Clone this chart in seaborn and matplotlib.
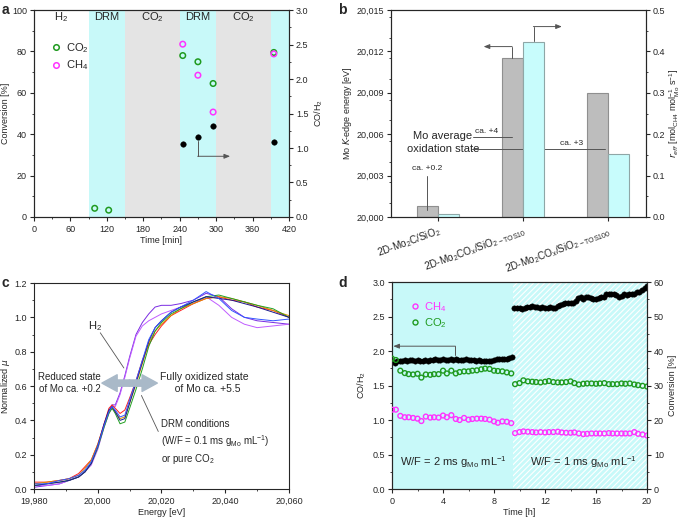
import matplotlib.pyplot as plt
import matplotlib.ticker as mticker
import pandas as pd
import seaborn as sns
from matplotlib.lines import Line2D

# ---------------- panel a: step-response test ----------------
A_CO2_T = [100, 123, 245, 270, 295, 395]
A_CO2 = [4.2, 3.3, 78.0, 75.0, 64.5, 79.5]
A_CH4_T = [245, 270, 295, 395]
A_CH4 = [83.5, 68.5, 50.7, 78.8]
A_RATIO_T = [245, 270, 295, 395]
A_RATIO = [1.06, 1.16, 1.32, 1.09]
A_PHASE_EDGES = [0, 90, 150, 240, 300, 390, 420]
A_PHASE_NAMES = ["H$_2$", "DRM", "CO$_2$", "DRM", "CO$_2$", ""]
A_PHASE_KIND = ["h2", "drm", "co2", "drm", "co2", "drm"]

# ---------------- panel b: edge energy and rate ----------------
B_CATS = [
    "2D-Mo$_2$C/SiO$_2$",
    "2D-Mo$_2$CO$_x$/SiO$_{\\mathregular{2-TOS10}}$",
    "2D-Mo$_2$CO$_x$/SiO$_{\\mathregular{2-TOS100}}$",
]
B_EDGE = [20000.8, 20011.5, 20009.0]
B_REFF = [0.007, 0.422, 0.152]

# ---------------- panel c: XANES spectra ----------------
C_ENERGY = [19980, 19984, 19988, 19991, 19994, 19996, 19998, 20000, 20002, 20003.5,
            20004.5, 20005.5, 20007, 20008.5, 20010, 20012, 20014, 20016, 20018, 20020,
            20023, 20026, 20030, 20034, 20038, 20042, 20046, 20050, 20055, 20060]
C_RED = [0.04, 0.04, 0.05, 0.06, 0.09, 0.13, 0.17, 0.26, 0.38, 0.47, 0.49, 0.47, 0.44, 0.46, 0.53,
         0.63, 0.75, 0.84, 0.90, 0.95, 1.01, 1.04, 1.08, 1.11, 1.12, 1.10, 1.09, 1.06, 1.04, 1.00]
C_GREEN = [0.02, 0.03, 0.04, 0.05, 0.07, 0.10, 0.15, 0.24, 0.36, 0.44, 0.47, 0.44, 0.38, 0.39, 0.47,
           0.58, 0.70, 0.83, 0.92, 0.97, 1.02, 1.05, 1.09, 1.12, 1.13, 1.11, 1.09, 1.07, 1.05, 1.00]
C_BLUE = [0.03, 0.03, 0.05, 0.06, 0.08, 0.11, 0.16, 0.25, 0.37, 0.45, 0.48, 0.46, 0.42, 0.43, 0.52,
          0.63, 0.75, 0.87, 0.94, 0.98, 1.03, 1.06, 1.10, 1.15, 1.11, 1.04, 1.00, 0.99, 0.98, 0.99]
C_ORANGE = [0.03, 0.04, 0.05, 0.06, 0.08, 0.12, 0.17, 0.26, 0.37, 0.45, 0.47, 0.45, 0.41, 0.42, 0.50,
            0.61, 0.73, 0.85, 0.92, 0.96, 1.01, 1.05, 1.08, 1.11, 1.12, 1.11, 1.09, 1.07, 1.04, 1.01]
C_NAVY = [0.02, 0.03, 0.04, 0.05, 0.07, 0.10, 0.15, 0.25, 0.38, 0.46, 0.48, 0.45, 0.40, 0.41, 0.50,
          0.62, 0.74, 0.86, 0.94, 0.98, 1.03, 1.06, 1.09, 1.12, 1.11, 1.10, 1.08, 1.06, 1.03, 1.00]
C_H2_A = [0.01, 0.02, 0.03, 0.05, 0.07, 0.10, 0.15, 0.24, 0.37, 0.45, 0.49, 0.49, 0.56, 0.66, 0.77,
          0.90, 0.97, 1.02, 1.06, 1.07, 1.07, 1.08, 1.10, 1.14, 1.12, 1.05, 1.00, 0.98, 0.97, 0.96]
C_H2_B = [0.02, 0.02, 0.03, 0.05, 0.07, 0.10, 0.14, 0.23, 0.36, 0.44, 0.48, 0.48, 0.55, 0.65, 0.76,
          0.89, 0.95, 0.98, 1.00, 1.02, 1.04, 1.06, 1.08, 1.12, 1.07, 1.00, 0.96, 0.94, 0.95, 0.96]

# ---------------- panel d: long-term DRM run ----------------
D_RATIO_T1 = [0.0, 0.2, 0.4, 0.6, 0.8, 1.0, 1.2, 1.4, 1.6, 1.8, 2.0, 2.2, 2.4, 2.6, 2.8, 3.0,
              3.2, 3.4, 3.6, 3.8, 4.0, 4.2, 4.4, 4.6, 4.8, 5.0, 5.2, 5.4, 5.6, 5.8, 6.0, 6.2,
              6.4, 6.6, 6.8, 7.0, 7.2, 7.4, 7.6, 7.8, 8.0, 8.2, 8.4, 8.6, 8.8, 9.0, 9.2, 9.4]
D_RATIO_1 = [1.85, 1.82, 1.85, 1.86, 1.86, 1.87, 1.86, 1.87, 1.87, 1.86, 1.87, 1.86, 1.86, 1.87,
             1.86, 1.87, 1.87, 1.88, 1.87, 1.87, 1.88, 1.87, 1.87, 1.88, 1.87, 1.88, 1.87, 1.87,
             1.87, 1.88, 1.87, 1.87, 1.87, 1.86, 1.87, 1.86, 1.86, 1.85, 1.86, 1.85, 1.87, 1.88,
             1.88, 1.89, 1.89, 1.89, 1.90, 1.91]
D_RATIO_T2 = [9.6, 9.8, 10.0, 10.2, 10.4, 10.6, 10.8, 11.0, 11.2, 11.4, 11.6, 11.8, 12.0, 12.2,
              12.4, 12.6, 12.8, 13.0, 13.2, 13.4, 13.6, 13.8, 14.0, 14.2, 14.4, 14.6, 14.8, 15.0,
              15.2, 15.4, 15.6, 15.8, 16.0, 16.2, 16.4, 16.6, 16.8, 17.0, 17.2, 17.4, 17.6, 17.8,
              18.0, 18.2, 18.4, 18.6, 18.8, 19.0, 19.2, 19.4, 19.6, 19.8, 20.0]
D_RATIO_2 = [2.63, 2.63, 2.62, 2.61, 2.63, 2.64, 2.64, 2.65, 2.64, 2.64, 2.63, 2.64, 2.63, 2.63,
             2.64, 2.63, 2.62, 2.65, 2.67, 2.68, 2.69, 2.69, 2.69, 2.70, 2.72, 2.77, 2.79, 2.75,
             2.78, 2.78, 2.77, 2.76, 2.75, 2.77, 2.79, 2.78, 2.83, 2.83, 2.82, 2.82, 2.81, 2.79,
             2.80, 2.82, 2.81, 2.82, 2.83, 2.83, 2.85, 2.86, 2.88, 2.91, 2.94]
D_CONV_T1 = [0.0, 0.3, 0.65, 1.0, 1.3, 1.65, 2.0, 2.3, 2.65, 3.0, 3.3, 3.65, 4.0, 4.3, 4.65,
             5.0, 5.3, 5.65, 6.0, 6.3, 6.65, 7.0, 7.3, 7.65, 8.0, 8.3, 8.65, 9.0, 9.35]
D_CH4_1 = [23.0, 23.0, 21.2, 20.8, 20.8, 20.6, 20.4, 19.7, 21.0, 20.7, 20.8, 20.7, 21.3, 20.8, 21.4,
           20.3, 20.0, 20.6, 20.1, 20.3, 20.4, 20.4, 20.3, 20.1, 19.6, 19.2, 19.6, 19.5, 19.1]
D_CO2_1 = [37.8, 37.4, 34.3, 33.6, 33.3, 33.2, 33.4, 32.3, 33.2, 33.1, 33.3, 33.3, 34.3, 33.5, 34.3,
           33.5, 33.9, 34.1, 34.1, 34.3, 34.4, 34.7, 34.9, 34.8, 34.3, 34.2, 34.1, 33.8, 33.5]
D_CONV_T2 = [9.65, 10.0, 10.3, 10.65, 11.0, 11.3, 11.65, 12.0, 12.3, 12.65, 13.0, 13.3, 13.65, 14.0,
             14.3, 14.65, 15.0, 15.3, 15.65, 16.0, 16.3, 16.65, 17.0, 17.3, 17.65, 18.0, 18.3,
             18.65, 19.0, 19.3, 19.65, 20.0]
D_CH4_2 = [16.2, 16.5, 16.7, 16.6, 16.5, 16.4, 16.5, 16.4, 16.5, 16.5, 16.6, 16.4, 16.3, 16.3, 16.4,
           16.1, 15.9, 16.0, 16.1, 16.1, 16.1, 16.1, 16.2, 16.1, 16.1, 16.1, 16.1, 16.1, 16.5, 16.0,
           15.8, 15.5]
D_CO2_2 = [30.4, 30.7, 31.5, 31.2, 31.1, 31.0, 30.9, 31.1, 31.3, 31.0, 30.9, 30.9, 31.0, 31.2, 30.7,
           30.3, 30.5, 30.6, 30.6, 30.5, 30.6, 30.7, 30.4, 30.4, 30.4, 30.6, 30.5, 30.6, 30.3, 30.1,
           29.9, 29.7]
D_WF_SWITCH = 9.5

CYAN = "#c8f9f9"
GREY_BG = "#e4e4e4"
GREEN = "#1f9a1f"
MAGENTA = "#ff33ff"
ARROW = "#555555"

sns.set_style("ticks")
plt.rcParams["font.family"] = ["Liberation Sans", "DejaVu Sans"]
plt.rcParams["font.size"] = 7
plt.rcParams["axes.linewidth"] = 0.8
plt.rcParams["xtick.direction"] = "out"
plt.rcParams["ytick.direction"] = "out"
plt.rcParams["xtick.major.size"] = 3
plt.rcParams["ytick.major.size"] = 3
plt.rcParams["xtick.minor.size"] = 1.6
plt.rcParams["ytick.minor.size"] = 1.6
plt.rcParams["xtick.major.pad"] = 2.5
plt.rcParams["ytick.major.pad"] = 2
plt.rcParams["xtick.labelsize"] = 6.5
plt.rcParams["ytick.labelsize"] = 6.5
plt.rcParams["axes.labelsize"] = 6.5
plt.rcParams["hatch.linewidth"] = 0.8
plt.rcParams["mathtext.default"] = "regular"

fig = plt.figure(figsize=(6.85, 5.19), dpi=100)
ax_a = fig.add_axes([0.0496, 0.5819, 0.3723, 0.3988])
ax_b = fig.add_axes([0.5708, 0.5819, 0.3723, 0.3988])
ax_c = fig.add_axes([0.0496, 0.0578, 0.3723, 0.3969])
ax_d = fig.add_axes([0.5723, 0.0578, 0.3723, 0.3988])

comma = mticker.StrMethodFormatter("{x:,.0f}")

# ---------------- a ----------------
bg = {"h2": "white", "drm": CYAN, "co2": GREY_BG}
for i, kind in enumerate(A_PHASE_KIND):
    x0, x1 = A_PHASE_EDGES[i], A_PHASE_EDGES[i + 1]
    ax_a.axvspan(x0, x1, color=bg[kind], lw=0, zorder=0)
    if A_PHASE_NAMES[i]:
        ax_a.text((x0 + x1) / 2, 96.5, A_PHASE_NAMES[i], ha="center", va="center", fontsize=8)

sns.scatterplot(x=A_CO2_T, y=A_CO2, ax=ax_a, color="none", edgecolor=GREEN, linewidth=1.1, s=16, zorder=3)
sns.scatterplot(x=A_CH4_T, y=A_CH4, ax=ax_a, color="none", edgecolor=MAGENTA, linewidth=1.1, s=16, zorder=3)
ax_a.set_xlim(0, 420)
ax_a.set_ylim(0, 100)
ax_a.set_xticks(range(0, 421, 60))
ax_a.xaxis.set_minor_locator(mticker.MultipleLocator(30))
ax_a.yaxis.set_minor_locator(mticker.MultipleLocator(10))
ax_a.set_xlabel("Time [min]", labelpad=1.5)
ax_a.set_ylabel("Conversion [%]", labelpad=1.5)
handles = [
    Line2D([], [], ls="", marker="o", mfc="none", mec=GREEN, mew=1.1, ms=4),
    Line2D([], [], ls="", marker="o", mfc="none", mec=MAGENTA, mew=1.1, ms=4),
]
ax_a.legend(handles, ["CO$_2$", "CH$_4$"], loc="upper left", bbox_to_anchor=(0.02, 0.9),
            frameon=False, fontsize=8, handletextpad=0.3, labelspacing=0.35, handlelength=1.2)

ax_a2 = ax_a.twinx()
sns.scatterplot(x=A_RATIO_T, y=A_RATIO, ax=ax_a2, color="black", edgecolor="black", s=16, zorder=3)
ax_a2.set_ylim(0, 3)
ax_a2.yaxis.set_minor_locator(mticker.MultipleLocator(0.25))
ax_a2.set_ylabel("CO/H$_2$", labelpad=3)
ax_a2.plot([270, 270], [1.1, 0.88], color=ARROW, lw=0.7)
ax_a2.annotate("", xy=(323, 0.88), xytext=(269.6, 0.88),
               arrowprops=dict(arrowstyle="-|>,head_length=0.5,head_width=0.2", color=ARROW, lw=0.7,
                               shrinkA=0, shrinkB=0))

# ---------------- b ----------------
pos = list(range(len(B_CATS)))
ax_b.bar([p - 0.25 for p in pos], [v - 20000 for v in B_EDGE], bottom=20000, width=0.25, align="edge",
         color="#bdbdbd", edgecolor="#8f8f8f", lw=0.8, zorder=2)
ax_b.set_xlim(-0.55, 2.45)
ax_b.set_ylim(20000, 20015)
ax_b.set_yticks(range(20000, 20016, 3))
ax_b.yaxis.set_minor_locator(mticker.MultipleLocator(1.5))
ax_b.yaxis.set_major_formatter(comma)
ax_b.set_ylabel("Mo $\\it{K}$-edge energy [eV]", labelpad=2)

ax_b2 = ax_b.twinx()
sns.barplot(x=[p + 0.125 for p in pos], y=B_REFF, native_scale=True, width=0.25, ax=ax_b2,
            color="#c8fcfc", edgecolor="#8fa6a6", linewidth=0.8, saturation=1, zorder=2)
ax_b2.set_xlim(-0.55, 2.45)
ax_b2.set_ylim(0, 0.5)
ax_b2.yaxis.set_minor_locator(mticker.MultipleLocator(0.05))
ax_b2.set_ylabel("$\\it{r}_{eff}$ [mol$_{CH4}$ mol$^{-1}_{Mo}$ s$^{-1}$]", labelpad=2)
ax_b.set_xticks(pos)
ax_b.set_xticklabels(B_CATS, rotation=20, ha="right", rotation_mode="anchor", fontsize=7.2)

ax_b.text(-0.125, 20003.5, "ca. +0.2", ha="center", va="center", fontsize=6)
ax_b.plot([-0.125, -0.125], [20003.0, 20000.5], color=ARROW, lw=0.7, zorder=3)
ax_b.text(0.06, 20005.85, "Mo average", ha="center", va="center", fontsize=8)
ax_b.text(0.06, 20004.95, "oxidation state", ha="center", va="center", fontsize=8)
ax_b.text(0.58, 20006.2, "ca. +4", ha="center", va="center", fontsize=6)
ax_b.plot([0.42, 0.87], [20005.82, 20005.82], color=ARROW, lw=0.7, zorder=3)
ax_b.text(1.57, 20005.35, "ca. +3", ha="center", va="center", fontsize=6)
ax_b.plot([0.4, 1.97], [20004.93, 20004.93], color=ARROW, lw=0.7, zorder=3)
ax_b.plot([0.87, 0.87], [20011.55, 20012.35], color=ARROW, lw=0.7, zorder=3)
ax_b.annotate("", xy=(0.54, 20012.35), xytext=(0.875, 20012.35),
              arrowprops=dict(arrowstyle="-|>,head_length=0.5,head_width=0.2", color=ARROW, lw=0.7,
                              shrinkA=0, shrinkB=0), zorder=3)
ax_b2.plot([1.13, 1.13], [0.425, 0.46], color=ARROW, lw=0.7, zorder=3)
ax_b2.annotate("", xy=(1.46, 0.46), xytext=(1.125, 0.46),
               arrowprops=dict(arrowstyle="-|>,head_length=0.5,head_width=0.2", color=ARROW, lw=0.7,
                               shrinkA=0, shrinkB=0), zorder=3)

# ---------------- c ----------------
curves = {
    "H2 a": C_H2_A, "H2 b": C_H2_B, "red": C_RED, "orange": C_ORANGE,
    "green": C_GREEN, "navy": C_NAVY, "blue": C_BLUE,
}
palette = {
    "H2 a": "#7a2be2", "H2 b": "#c05cff", "red": "#ff2020", "orange": "#e08a00",
    "green": "#22a022", "navy": "#1a1a8c", "blue": "#3355ff",
}
df_c = pd.concat(
    [pd.DataFrame({"E": C_ENERGY, "mu": vals, "curve": name}) for name, vals in curves.items()],
    ignore_index=True,
)
sns.lineplot(data=df_c, x="E", y="mu", hue="curve", palette=palette, ax=ax_c, lw=0.7, legend=False)
ax_c.set_xlim(19980, 20060)
ax_c.set_ylim(0, 1.2)
ax_c.set_xticks(range(19980, 20061, 20))
ax_c.xaxis.set_major_formatter(comma)
ax_c.xaxis.set_minor_locator(mticker.MultipleLocator(10))
ax_c.yaxis.set_minor_locator(mticker.MultipleLocator(0.1))
ax_c.set_xlabel("Energy [eV]", labelpad=1.5)
ax_c.set_ylabel("Normalized $\\it{\\mu}$", labelpad=1.5)

ax_c.annotate("", xy=(20001.3, 0.617), xytext=(20010, 0.617),
              arrowprops=dict(arrowstyle="simple,head_length=1.1,head_width=1.2,tail_width=0.45",
                              color="#a9b9c8", shrinkA=0, shrinkB=0, mutation_scale=10))
ax_c.annotate("", xy=(20018.7, 0.617), xytext=(20009.9, 0.617),
              arrowprops=dict(arrowstyle="simple,head_length=1.1,head_width=1.2,tail_width=0.45",
                              color="#a9b9c8", shrinkA=0, shrinkB=0, mutation_scale=10))
ax_c.plot([20006, 20014], [0.617, 0.617], color="#c9e6f2", lw=3, solid_capstyle="butt")
ax_c.text(19991.2, 0.617, "Reduced state\nof Mo ca. +0.2", ha="center", va="center", fontsize=7,
          linespacing=1.2)
ax_c.text(20033.5, 0.617, "Fully oxidized state\n  of Mo ca. +5.5", ha="center", va="center",
          fontsize=7.5, linespacing=1.2)
ax_c.text(19999.3, 0.95, "H$_2$", ha="center", va="center", fontsize=8)
ax_c.plot([20000.8, 20008.2], [0.91, 0.705], color=ARROW, lw=0.6)
ax_c.plot([20013.7, 20019], [0.545, 0.335], color=ARROW, lw=0.6)
ax_c.text(20019.8, 0.27, "DRM conditions\n(W/F = 0.1 ms g$_{Mo}$ mL$^{-1}$)\nor pure CO$_2$",
          ha="left", va="center", fontsize=7, linespacing=1.35)

# ---------------- d ----------------
ax_d.axvspan(0, D_WF_SWITCH, color=CYAN, lw=0, zorder=0)
ax_d.axvspan(D_WF_SWITCH, 20, facecolor=CYAN, edgecolor="white", hatch="//////", lw=0, zorder=0)
sns.scatterplot(x=D_RATIO_T1, y=D_RATIO_1, ax=ax_d, color="black", edgecolor="black", s=15, zorder=3)
sns.scatterplot(x=D_RATIO_T2, y=D_RATIO_2, ax=ax_d, color="black", edgecolor="black", s=15, zorder=3)
ax_d.set_xlim(0, 20)
ax_d.set_ylim(0, 3)
ax_d.set_xticks(range(0, 21, 4))
ax_d.xaxis.set_minor_locator(mticker.MultipleLocator(2))
ax_d.yaxis.set_minor_locator(mticker.MultipleLocator(0.25))
ax_d.yaxis.set_major_formatter(mticker.FormatStrFormatter("%.1f"))
ax_d.set_xlabel("Time [h]", labelpad=1.5)
ax_d.set_ylabel("CO/H$_2$", labelpad=3)
ax_d.plot([4.95, 4.95], [1.94, 2.07], color=ARROW, lw=0.7)
ax_d.annotate("", xy=(0.1, 2.07), xytext=(4.97, 2.07),
              arrowprops=dict(arrowstyle="-|>,head_length=0.5,head_width=0.2", color=ARROW, lw=0.7,
                              shrinkA=0, shrinkB=0))
ax_d.text(4.8, 0.39, "W/F = 2 ms g$_{Mo}$ mL$^{-1}$", ha="center", va="center", fontsize=8)
ax_d.text(15.0, 0.39, "W/F = 1 ms g$_{Mo}$ mL$^{-1}$", ha="center", va="center", fontsize=8)

ax_d2 = ax_d.twinx()
for tt, vv in [(D_CONV_T1, D_CH4_1), (D_CONV_T2, D_CH4_2)]:
    sns.scatterplot(x=tt, y=vv, ax=ax_d2, color="none", edgecolor=MAGENTA, linewidth=1.0, s=12, zorder=3)
for tt, vv in [(D_CONV_T1, D_CO2_1), (D_CONV_T2, D_CO2_2)]:
    sns.scatterplot(x=tt, y=vv, ax=ax_d2, color="none", edgecolor=GREEN, linewidth=1.0, s=12, zorder=3)
ax_d2.set_ylim(0, 60)
ax_d2.yaxis.set_minor_locator(mticker.MultipleLocator(5))
ax_d2.set_ylabel("Conversion [%]", labelpad=3)
handles = [
    Line2D([], [], ls="", marker="o", mfc="none", mec=MAGENTA, mew=1.0, ms=3.6),
    Line2D([], [], ls="", marker="o", mfc="none", mec=GREEN, mew=1.0, ms=3.6),
]
leg = ax_d2.legend(handles, ["CH$_4$", "CO$_2$"], loc="upper left", bbox_to_anchor=(0.03, 0.96),
                   frameon=False, fontsize=8, handletextpad=0.3, labelspacing=0.2, handlelength=1.0)
for txt, col in zip(leg.get_texts(), [MAGENTA, GREEN]):
    txt.set_color(col)

for label, x, y in [("a", 0.002, 0.995), ("b", 0.494, 0.995), ("c", 0.002, 0.468), ("d", 0.494, 0.468)]:
    fig.text(x, y, label, fontsize=10, fontweight="bold", va="top", ha="left")

fig.savefig("out.png", dpi=100)
